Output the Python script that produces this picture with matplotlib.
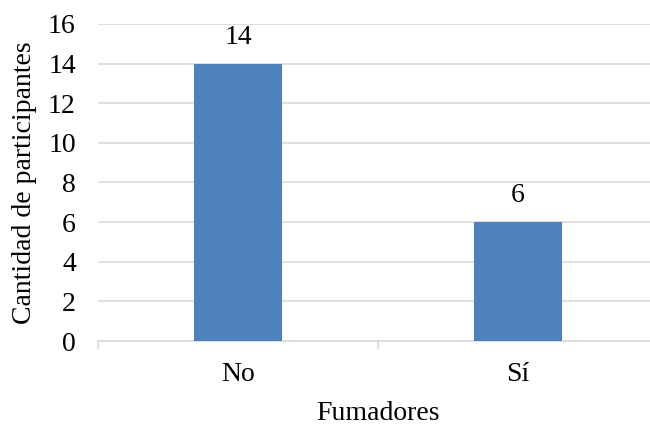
import matplotlib
matplotlib.use("Agg")
import matplotlib.pyplot as plt

categorias = ["No", "Sí"]
participantes = [14, 6]
yticks = [0, 2, 4, 6, 8, 10, 12, 14, 16]

plt.rcParams['font.family'] = ['Liberation Serif', 'DejaVu Serif']
fs = 20

fig = plt.figure(figsize=(6.5, 4.26), dpi=100)
ax = fig.add_axes([0.1508, 0.1995, 0.8615, 0.7442])

x = list(range(len(categorias)))
bars = ax.bar(x, participantes, width=0.314, color="#4F81BD", zorder=3)
# etiquetas de valor encima de cada barra
for b, v in zip(bars, participantes):
    ax.text(b.get_x() + b.get_width() / 2, v + 0.7, str(v),
            ha="center", va="bottom", fontsize=fs)

ax.set_xlim(-0.5, len(categorias) - 0.5)
ax.set_ylim(0, 16)
ax.set_yticks(yticks)
ax.yaxis.grid(True, color="#d9d9d9", linewidth=1.2, zorder=0)
ax.set_axisbelow(True)

ax.set_xticks(x)
ax.set_xticklabels(categorias)
ax.set_xticks([i - 0.5 for i in range(len(categorias) + 1)], minor=True)
ax.tick_params(axis="x", which="major", length=0, pad=15, labelsize=fs)
ax.tick_params(axis="x", which="minor", length=6, color="#d9d9d9", width=1.2)
ax.tick_params(axis="y", length=0, pad=16, labelsize=fs)

for s in ["top", "right", "left"]:
    ax.spines[s].set_visible(False)
ax.spines["bottom"].set_color("#d9d9d9")
ax.spines["bottom"].set_linewidth(1.2)

ax.set_xlabel("Fumadores", fontsize=fs, labelpad=10)
ax.set_ylabel("Cantidad de participantes", fontsize=fs, labelpad=8)

fig.savefig("out.png", dpi=100)
